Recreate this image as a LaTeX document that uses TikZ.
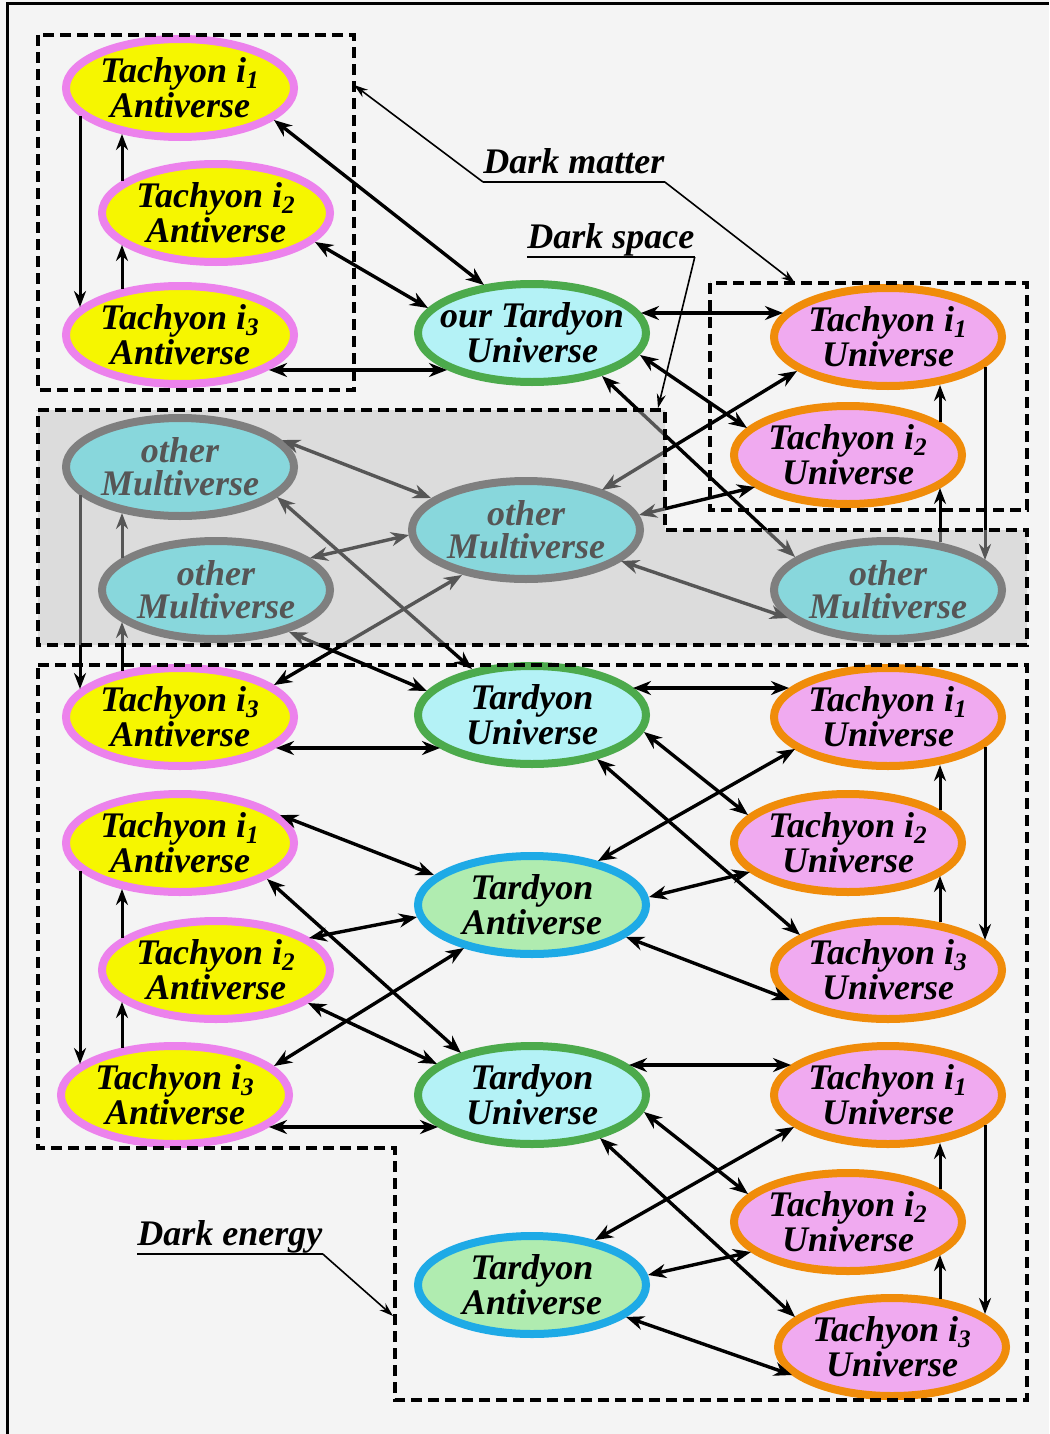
\documentclass[tikz,border=0pt]{standalone}
\usepackage{fontspec}
\setmainfont{Liberation Serif}
\usetikzlibrary{arrows.meta,shapes.geometric,calc}
\definecolor{paper}{RGB}{244,244,244}
\definecolor{antifill}{RGB}{246,246,0}
\definecolor{antirim}{RGB}{236,130,236}
\definecolor{unifill}{RGB}{240,170,240}
\definecolor{unirim}{RGB}{240,140,10}
\definecolor{tardfill}{RGB}{180,242,246}
\definecolor{tardrim}{RGB}{76,170,76}
\definecolor{tavfill}{RGB}{176,236,176}
\definecolor{tavrim}{RGB}{30,170,230}
\definecolor{mvfill}{RGB}{91,236,244}
\definecolor{mvrim}{RGB}{76,76,76}
\definecolor{veil}{RGB}{191,191,191}
\tikzset{
  verse/.style={ellipse, line width=4pt, minimum width=114pt, minimum height=49pt,
    inner xsep=-8pt, inner ysep=0pt, outer sep=0pt, align=center,
    font=\bfseries\itshape\fontsize{18}{15}\selectfont},
  antiv/.style={verse, draw=antirim, fill=antifill},
  univ/.style={verse, draw=unirim, fill=unifill},
  tardu/.style={verse, draw=tardrim, fill=tardfill},
  tarda/.style={verse, draw=tavrim, fill=tavfill},
  multi/.style={verse, draw=mvrim, fill=mvfill, font=\bfseries\itshape\fontsize{18}{16.5}\selectfont},
  link/.style={{Stealth[length=9pt,width=7pt]}-{Stealth[length=9pt,width=7pt]}, line width=1.7pt},
  hop/.style={-{Stealth[length=8pt,width=6pt]}, line width=1.5pt},
  hint/.style={-{Stealth[length=7pt,width=4.5pt]}, line width=0.8pt},
  zone/.style={dash pattern=on 5.5pt off 3pt, line width=1.6pt},
  darklabel/.style={font=\bfseries\itshape\fontsize{18}{18}\selectfont, inner sep=0pt, text depth=4pt, anchor=south west},
  labelrule/.style={line width=1.4pt}
}
\newcommand{\TachAnti}[1]{Tachyon i\textsubscript{#1}\\Antiverse}
\newcommand{\TachUni}[1]{Tachyon i\textsubscript{#1}\\Universe}

\begin{document}
\begin{tikzpicture}[x=0.5pt, y=-0.5pt]
  \useasboundingbox (0,0) rectangle (1049,1434);
  \fill[paper] (0,0) rectangle (1049,1434);
  \draw[line width=1.5pt] (7,1434) -- (7,4) -- (1049,4);

  % our multiverse, top
  \node[antiv] (topA1) at (180,88) {\TachAnti1};
  \node[antiv] (topA2) at (216,213) {\TachAnti2};
  \node[antiv] (topA3) at (180,335) {\TachAnti3};
  \node[tardu] (ourU) at (532,333) {our Tardyon\\Universe};
  \node[univ] (topU1) at (888,337) {\TachUni1};
  \node[univ] (topU2) at (848,455) {\TachUni2};
  % other multiverses
  \node[multi] (mv1) at (180,467) {other\\Multiverse};
  \node[multi] (mv2) at (216,590) {other\\Multiverse};
  \node[multi] (mv3) at (526,530) {other\\Multiverse};
  \node[multi] (mv4) at (888,590) {other\\Multiverse};
  % lower multiverse
  \node[antiv] (A3a) at (180,717) {\TachAnti3};
  \node[tardu] (Ua) at (532,715) {Tardyon\\Universe};
  \node[univ] (U1a) at (888,717) {\TachUni1};
  \node[antiv] (A1a) at (180,843) {\TachAnti1};
  \node[univ] (U2a) at (848,843) {\TachUni2};
  \node[tarda] (Va) at (532,905) {Tardyon\\Antiverse};
  \node[antiv] (A2a) at (216,970) {\TachAnti2};
  \node[univ] (U3a) at (888,970) {\TachUni3};
  \node[antiv] (A3b) at (175,1095) {\TachAnti3};
  \node[tardu] (Ub) at (532,1095) {Tardyon\\Universe};
  \node[univ] (U1b) at (888,1095) {\TachUni1};
  \node[univ] (U2b) at (848,1222) {\TachUni2};
  \node[tarda] (Vb) at (532,1285) {Tardyon\\Antiverse};
  \node[univ] (U3b) at (892,1347) {\TachUni3};

  \draw[link] ($(topA1)+(94,32)$) -- ($(ourU)+(-48,-48)$);
  \draw[link] ($(topA2)+(99,29)$) -- ($(ourU)+(-104,-25)$);
  \draw[link] ($(topA3)+(89,35)$) -- ($(ourU)+(-85,37)$);
  \draw[link] ($(ourU)+(109,-20)$) -- ($(topU1)+(-105,-24)$);
  \draw[link] ($(ourU)+(108,22)$) -- ($(topU2)+(-101,-27)$);
  \draw[link] ($(topU1)+(-91,34)$) -- ($(mv3)+(76,-40)$);
  \draw[link] ($(ourU)+(70,43)$) -- ($(mv4)+(-93,-33)$);
  \draw[link] ($(topU2)+(-93,32)$) -- ($(mv3)+(113,-15)$);
  \draw[hop] ($(topA1)+(-100,28)$) -- ($(topA3)+(-100,-28)$);
  \draw[hop] ($(topA3)+(-58,-46)$) -- ($(topA2)+(-94,32)$);
  \draw[hop] ($(topA2)+(-94,-32)$) -- ($(topA1)+(-58,46)$);
  \draw[hop] ($(topU1)+(97,30)$) -- ($(mv4)+(97,-30)$);
  \draw[hop] ($(mv4)+(52,-48)$) -- ($(topU2)+(92,33)$);
  \draw[hop] ($(topU2)+(92,-33)$) -- ($(topU1)+(52,48)$);

  \draw[link] ($(mv1)+(102,-27)$) -- ($(mv3)+(-95,-32)$);
  \draw[link] ($(mv2)+(94,-32)$) -- ($(mv3)+(-117,5)$);
  \draw[link] ($(mv3)+(95,31)$) -- ($(mv4)+(-100,28)$);
  \draw[link] ($(mv1)+(97,30)$) -- ($(Ua)+(-60,-46)$);
  \draw[link] ($(mv2)+(73,42)$) -- ($(Ua)+(-105,-24)$);
  \draw[link] ($(mv3)+(-64,45)$) -- ($(A3a)+(94,-32)$);
  \draw[hop] ($(mv1)+(-100,28)$) -- ($(A3a)+(-100,-28)$);
  \draw[hop] ($(A3a)+(-58,-46)$) -- ($(mv2)+(-94,32)$);
  \draw[hop] ($(mv2)+(-94,-32)$) -- ($(mv1)+(-58,46)$);

  \draw[link] ($(A3a)+(96,31)$) -- ($(Ua)+(-92,33)$);
  \draw[link] ($(Ua)+(101,-27)$) -- ($(U1a)+(-99,-29)$);
  \draw[link] ($(Ua)+(112,17)$) -- ($(U2a)+(-100,-28)$);
  \draw[link] ($(Ua)+(65,44)$) -- ($(U3a)+(-88,-35)$);
  \draw[link] ($(U1a)+(-93,32)$) -- ($(Va)+(66,-44)$);
  \draw[link] ($(U2a)+(-98,29)$) -- ($(Va)+(117,-8)$);
  \draw[link] ($(U3a)+(-98,30)$) -- ($(Va)+(94,32)$);
  \draw[hop] ($(U1a)+(97,30)$) -- ($(U3a)+(97,-30)$);
  \draw[hop] ($(U3a)+(52,-48)$) -- ($(U2a)+(92,33)$);
  \draw[hop] ($(U2a)+(92,-33)$) -- ($(U1a)+(52,48)$);

  \draw[link] ($(A1a)+(100,-28)$) -- ($(Va)+(-98,-30)$);
  \draw[link] ($(A1a)+(87,36)$) -- ($(Ub)+(-71,-42)$);
  \draw[link] ($(A2a)+(93,-32)$) -- ($(Va)+(-115,12)$);
  \draw[link] ($(A2a)+(92,33)$) -- ($(Ub)+(-95,-31)$);
  \draw[link] ($(A3b)+(99,-29)$) -- ($(Va)+(-68,43)$);
  \draw[link] ($(A3b)+(94,32)$) -- ($(Ub)+(-94,32)$);
  \draw[hop] ($(A1a)+(-100,28)$) -- ($(A3b)+(-95,-31)$);
  \draw[hop] ($(A3b)+(-53,-47)$) -- ($(A2a)+(-94,32)$);
  \draw[hop] ($(A2a)+(-94,-32)$) -- ($(A1a)+(-58,46)$);

  \draw[link] ($(Ub)+(97,-30)$) -- ($(U1b)+(-97,-30)$);
  \draw[link] ($(Ub)+(112,17)$) -- ($(U2b)+(-100,-28)$);
  \draw[link] ($(Ub)+(68,43)$) -- ($(U3b)+(-97,-30)$);
  \draw[link] ($(U1b)+(-94,32)$) -- ($(Vb)+(63,-45)$);
  \draw[link] ($(U2b)+(-97,30)$) -- ($(Vb)+(116,-10)$);
  \draw[link] ($(U3b)+(-100,28)$) -- ($(Vb)+(94,32)$);
  \draw[hop] ($(U1b)+(97,30)$) -- ($(U3b)+(93,-33)$);
  \draw[hop] ($(U3b)+(48,-48)$) -- ($(U2b)+(92,33)$);
  \draw[hop] ($(U2b)+(92,-33)$) -- ($(U1b)+(52,48)$);

  % dark space veil and the dashed zones
  \fill[veil, fill opacity=0.45] (38,410) -- (665,410) -- (665,530) -- (1027,530) -- (1027,645) -- (38,645) -- cycle;
  \draw[zone] (38,35) rectangle (354,390);
  \draw[zone] (710,283) rectangle (1027,510);
  \draw[zone] (38,410) -- (665,410) -- (665,530) -- (1027,530) -- (1027,645) -- (38,645) -- cycle;
  \draw[zone] (38,665) -- (1027,665) -- (1027,1400) -- (395,1400) -- (395,1148) -- (38,1148) -- cycle;

  \coordinate (antiTip) at (354,85);
  \coordinate (uniTip) at (795,283);
  \coordinate (spaceTip) at (658,408);
  \coordinate (energyTip) at (393,1316);
  \node[darklabel] (dm) at (483,182) {Dark matter};
  \node[darklabel] (ds) at (527,257) {Dark space};
  \node[darklabel] (de) at (137,1254) {Dark energy};
  \draw[labelrule] (dm.south west) -- (dm.south east);
  \draw[labelrule] (ds.south west) -- (ds.south east);
  \draw[labelrule] (de.south west) -- (de.south east);
  \draw[hint] (dm.south west) -- (antiTip);
  \draw[hint] (dm.south east) -- (uniTip);
  \draw[hint] (ds.south east) -- (spaceTip);
  \draw[hint] (de.south east) -- (energyTip);
\end{tikzpicture}
\end{document}
